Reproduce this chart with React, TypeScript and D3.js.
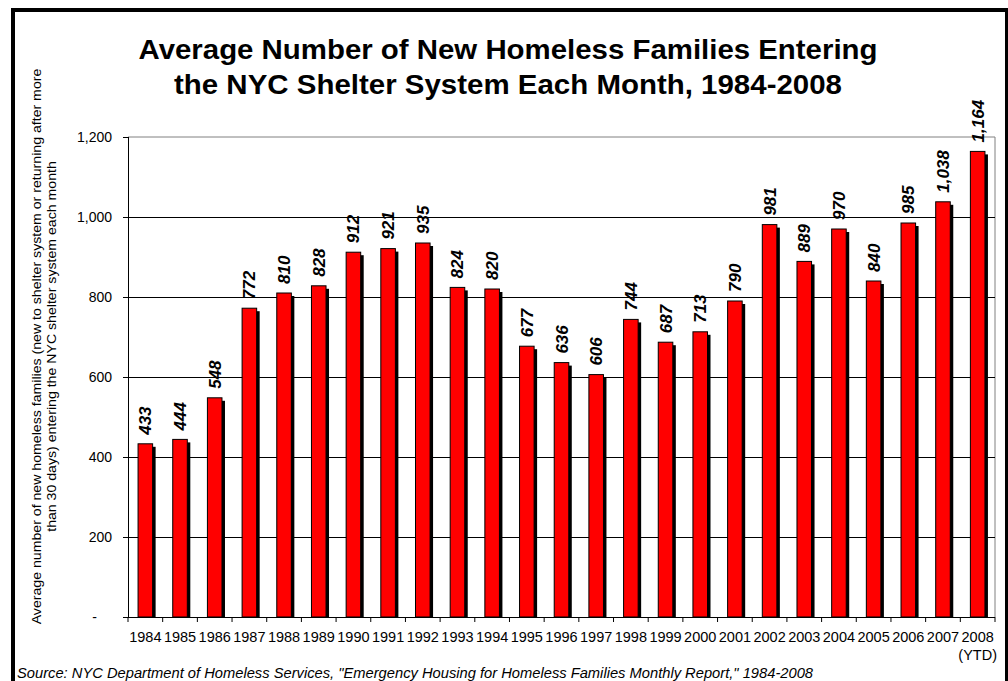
import React from "react";
import * as d3 from "d3";

const years = ["1984","1985","1986","1987","1988","1989","1990","1991","1992","1993","1994","1995","1996","1997","1998","1999","2000","2001","2002","2003","2004","2005","2006","2007","2008"];
const values = [433,444,548,772,810,828,912,921,935,824,820,677,636,606,744,687,713,790,981,889,970,840,985,1038,1164];
const yTicks = [0,200,400,600,800,1000,1200];
const titleLines = ["Average Number of New Homeless Families Entering","the NYC Shelter System Each Month, 1984-2008"];
const yLabelLines = ["Average number of new homeless families (new to shelter system or returning after more","than 30 days) entering the NYC shelter system each month"];
const sourceText = "Source:  NYC Department of Homeless Services, \"Emergency Housing for Homeless Families Monthly Report,\" 1984-2008";

export default function App() {
  const W = 1008, H = 681;
  const left = 128, right = 995, top = 137, bottom = 617;
  const font = "Arial, 'Liberation Sans', sans-serif";
  const x = d3.scaleBand<string>().domain(years).range([left, right]).paddingInner(0.58).paddingOuter(0.29);
  const band = (right - left) / years.length;
  const y = d3.scaleLinear().domain([0, 1200]).range([bottom, top]);
  const fmt = d3.format(",");
  const bw = x.bandwidth();
  const titleWidths = [739, 668];
  return (
    <svg width={W} height={H} style={{ position: "absolute", left: 0, top: 0, background: "#fff" }} fontFamily={font}>
      <rect x={0} y={0} width={W} height={H} fill="#fff" />
      <rect x={13} y={10} width={994} height={700} fill="none" stroke="#000" strokeWidth={4} />
      {titleLines.map((t, i) => (
        <text key={i} x={508} y={59 + i * 34.5} textAnchor="middle" fontSize={27} fontWeight="bold"
          textLength={titleWidths[i]} lengthAdjust="spacingAndGlyphs">{t}</text>
      ))}
      <line x1={left} x2={right} y1={top} y2={top} stroke="#808080" />
      <line x1={right} x2={right} y1={top} y2={bottom} stroke="#808080" />
      {yTicks.filter(v => v > 0 && v < 1200).map(v => (
        <line key={v} x1={left} x2={right} y1={Math.round(y(v)) + 0.5} y2={Math.round(y(v)) + 0.5} stroke="#000" strokeWidth={1} />
      ))}
      {yTicks.map(v => (
        <g key={"t" + v}>
          <line x1={left - 5} x2={left} y1={Math.round(y(v)) + 0.5} y2={Math.round(y(v)) + 0.5} stroke="#000" />
          <text x={v === 0 ? 97 : 112} y={y(v) + 5} textAnchor="end" fontSize={14}>{v === 0 ? "-" : fmt(v)}</text>
        </g>
      ))}
      {values.map((v, i) => {
        const bx = x(years[i])!;
        const by = y(v);
        return (
          <g key={years[i]}>
            <rect x={bx + 3} y={by + 3} width={bw} height={bottom - by - 3} fill="#000" />
            <rect x={bx} y={by} width={bw} height={bottom - by} fill="#ff0000" stroke="#000" strokeWidth={1} />
            <text transform={`translate(${bx + bw / 2 + 6},${by - 9}) rotate(-90)`} fontSize={17} fontWeight="bold" fontStyle="italic">{fmt(v)}</text>
          </g>
        );
      })}
      <line x1={left + 0.5} x2={left + 0.5} y1={top} y2={bottom} stroke="#000" />
      <line x1={left} x2={right} y1={bottom + 0.5} y2={bottom + 0.5} stroke="#000" />
      {d3.range(years.length + 1).map(i => (
        <line key={"xt" + i} x1={left + i * band} x2={left + i * band} y1={bottom} y2={bottom + 5} stroke="#000" />
      ))}
      {years.map((yr) => (
        <text key={"xl" + yr} x={x(yr)! + bw / 2} y={642} textAnchor="middle" fontSize={14.5}>{yr}</text>
      ))}
      <text x={x("2008")! + bw / 2} y={660} textAnchor="middle" fontSize={14.5}>(YTD)</text>
      {yLabelLines.map((t, i) => (
        <text key={"yl" + i} transform={`translate(${41 + i * 15},${346.5}) rotate(-90) scale(1.047,1)`} textAnchor="middle" fontSize={13.5}>{t}</text>
      ))}
      <text x={17} y={678} fontSize={14} fontStyle="italic" textLength={796} lengthAdjust="spacingAndGlyphs">{sourceText}</text>
    </svg>
  );
}
